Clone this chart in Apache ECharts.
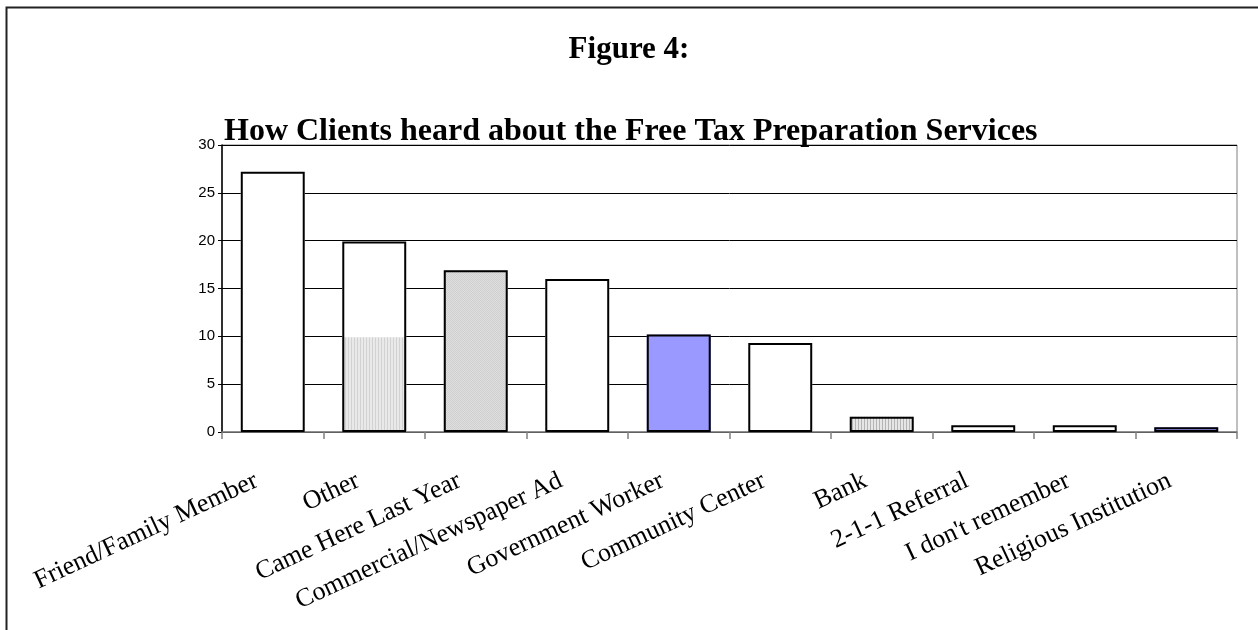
<!DOCTYPE html>
<html>
<head>
<meta charset="utf-8">
<script src="https://cdn.jsdelivr.net/npm/echarts@6/dist/echarts.min.js"></script>
<style>
  html, body { margin: 0; padding: 0; background: #ffffff; }
  #chart { width: 1258px; height: 630px; }
</style>
</head>
<body>
<div id="chart"></div>
<script>
// Survey responses: how clients heard about the free tax preparation services
const categories = [
  'Friend/Family Member', 'Other', 'Came Here Last Year', 'Commercial/Newspaper Ad',
  'Government Worker', 'Community Center', 'Bank', '2-1-1 Referral',
  "I don't remember", 'Religious Institution'
];
const counts = [27.2, 19.9, 16.9, 16.0, 10.2, 9.3, 1.6, 0.7, 0.7, 0.5];
// shaded lower portion drawn inside the "Other" bar
const otherShaded = [null, 9.9, null, null, null, null, null, null, null, null];
const yMin = 0, yMax = 30, yStep = 5;

const figureTitle = 'Figure 4:';
const chartTitle = 'How Clients heard about the Free Tax Preparation Services';

// fill style key for each bar
const barFills = ['white', 'white', 'dots', 'white', 'blue', 'white', 'stripes', 'white', 'white', 'blue'];

function makePattern(w, h, paint) {
  const c = document.createElement('canvas');
  c.width = w; c.height = h;
  paint(c.getContext('2d'));
  return { image: c, repeat: 'repeat' };
}
const stripesSoft = makePattern(3, 3, g => {
  g.fillStyle = '#e9e9e9'; g.fillRect(0, 0, 3, 3);
  g.fillStyle = '#d2d2d2'; g.fillRect(0, 0, 1, 3);
});
const stripesBank = makePattern(3, 3, g => {
  g.fillStyle = '#e6e6e6'; g.fillRect(0, 0, 3, 3);
  g.fillStyle = '#b4b4b4'; g.fillRect(0, 0, 1, 3);
});
const dots = makePattern(2, 2, g => {
  g.fillStyle = '#dedede'; g.fillRect(0, 0, 2, 2);
  g.fillStyle = '#d0d0d0'; g.fillRect(0, 0, 1, 1); g.fillRect(1, 1, 1, 1);
});
const fillFor = { white: '#ffffff', blue: '#9999ff', dots: dots, stripes: stripesBank };

const chart = echarts.init(document.getElementById('chart'), null, { renderer: 'canvas' });

const barW = '63%';
chart.setOption({
  animation: false,
  backgroundColor: '#ffffff',
  grid: {
    left: 222, right: 21, top: 145, bottom: 198,
    show: true, borderColor: '#808080', borderWidth: 1, backgroundColor: '#ffffff'
  },
  xAxis: {
    type: 'category',
    data: categories,
    boundaryGap: true,
    axisLine: { lineStyle: { color: '#808080', width: 1.5 } },
    axisTick: { show: true, length: 7, lineStyle: { color: '#808080', width: 1.5 } },
    axisLabel: {
      interval: 0, rotate: 25, margin: 40,
      padding: [0, 18, 0, 0],
      fontFamily: 'Liberation Serif', fontSize: 26, color: '#000000'
    },
    splitLine: { show: false }
  },
  yAxis: {
    type: 'value', min: yMin, max: yMax, interval: yStep,
    axisLine: { show: true, lineStyle: { color: '#000000', width: 1.5 } },
    axisTick: { show: true, length: 4, lineStyle: { color: '#000000' } },
    axisLabel: { fontFamily: 'Liberation Sans', fontSize: 15, color: '#000000', margin: 7 },
    splitLine: { show: true, lineStyle: { color: '#000000', width: 1 } }
  },
  series: [
    {
      // bar fills
      type: 'bar', barWidth: barW, barGap: '-100%', z: 2,
      data: counts.map((v, i) => ({ value: v, itemStyle: { color: fillFor[barFills[i]] } })),
      itemStyle: { borderWidth: 0 }
    },
    {
      // shaded lower part of "Other"
      type: 'bar', barWidth: barW, barGap: '-100%', z: 3,
      data: otherShaded,
      itemStyle: { color: stripesSoft, borderWidth: 0 }
    },
    {
      // black outlines on top
      type: 'bar', barWidth: barW, barGap: '-100%', z: 4, silent: true,
      data: counts,
      itemStyle: { color: 'rgba(0,0,0,0)', borderColor: '#000000', borderWidth: 2 }
    }
  ],
  graphic: [
    {
      type: 'rect', silent: true, z: 10,
      shape: { x: 6.5, y: 7.5, width: 1400, height: 800 },
      style: { fill: null, stroke: '#222222', lineWidth: 2 }
    },
    {
      type: 'text', left: 'center', top: 34, z: 10,
      style: { text: figureTitle, font: 'bold 31px "Liberation Serif"', fill: '#000000' }
    },
    {
      type: 'text', left: 224, top: 116, z: 10,
      style: { text: chartTitle, font: 'bold 32px "Liberation Serif"', fill: '#000000' }
    }
  ]
});
</script>
</body>
</html>
